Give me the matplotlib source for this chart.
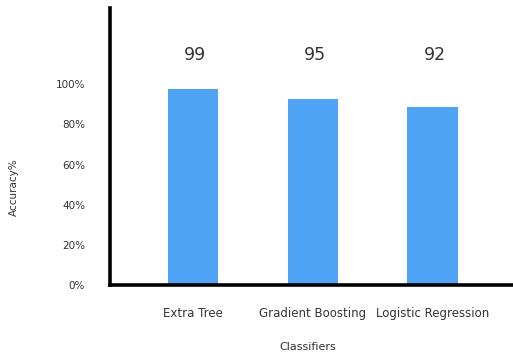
import matplotlib
matplotlib.use("Agg")
import matplotlib.pyplot as plt

# data
classifiers = ["Extra Tree", "Gradient Boosting", "Logistic Regression"]
bar_heights = [97.5, 92.5, 88.5]          # drawn bar heights (%)
score_labels = ["99", "95", "92"]         # numbers printed above the bars
yticks = [0, 20, 40, 60, 80, 100]
ytick_labels = ["0%", "20%", "40%", "60%", "80%", "100%"]

BLUE = "#4FA3F5"
TXT = "#333333"

fig = plt.figure(figsize=(5.13, 3.54), dpi=100)
ax = fig.add_axes([0.2144, 0.195, 0.7856, 0.782])

x = list(range(len(classifiers)))
ax.bar(x, bar_heights, width=0.42, color=BLUE, zorder=2)

# numbers floating above the bars, all on one line
for xi, lab in zip(x, score_labels):
    ax.text(xi + 0.02, 114.5, lab, ha="center", va="center", fontsize=12.5, color=TXT)

ax.set_xlim(-0.69, 2.67)
ax.set_ylim(0, 138)
ax.set_xticks(x)
ax.set_xticklabels(classifiers, fontsize=8.5, color=TXT)
ax.set_yticks(yticks)
ax.set_yticklabels(ytick_labels, fontsize=7.5, color=TXT)
ax.tick_params(axis="both", length=0)
ax.tick_params(axis="x", pad=16)
ax.tick_params(axis="y", pad=18)

ax.set_xlabel("Classifiers", fontsize=8, color=TXT)
ax.xaxis.set_label_coords(0.49, -0.205)
ax.set_ylabel("Accuracy%", fontsize=7.5, color=TXT)
ax.yaxis.set_label_coords(-0.225, 0.355)

for s in ("top", "right"):
    ax.spines[s].set_visible(False)
for s in ("left", "bottom"):
    ax.spines[s].set_linewidth(2.6)
    ax.spines[s].set_color("black")

fig.savefig("out.png", dpi=100)
